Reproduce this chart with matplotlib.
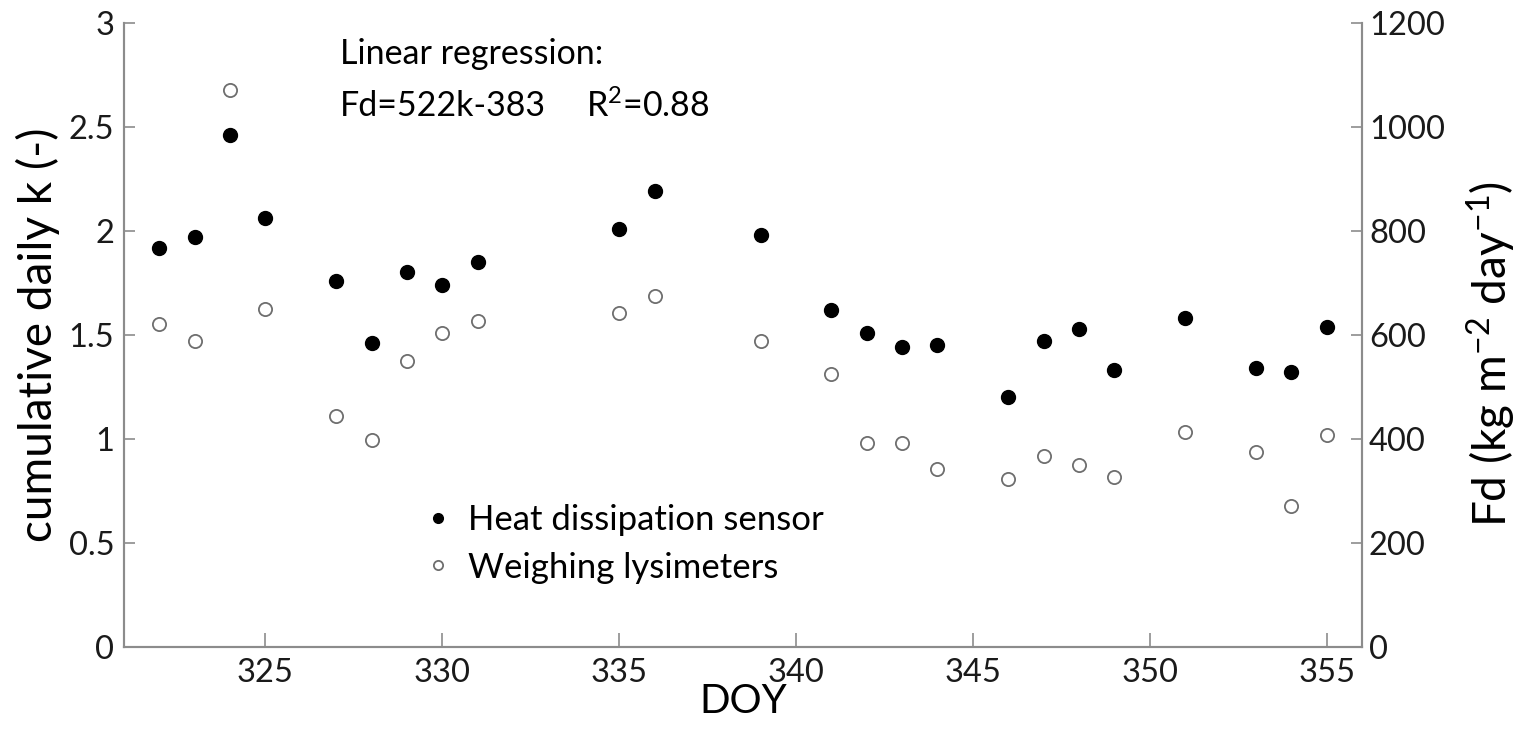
import matplotlib
matplotlib.use("Agg")
import matplotlib.pyplot as plt

plt.rcParams['font.family'] = ['Lato', 'DejaVu Sans']
plt.rcParams['mathtext.fontset'] = 'custom'
plt.rcParams['mathtext.rm'] = 'Lato'
plt.rcParams['mathtext.it'] = 'Lato'

# day of year
doy = [322, 323, 324, 325, 327, 328, 329, 330, 331, 335, 336, 339,
       341, 342, 343, 344, 346, 347, 348, 349, 351, 353, 354, 355]
# cumulative daily k from heat dissipation sensor (left axis)
k_hds = [1.92, 1.97, 2.46, 2.06, 1.76, 1.46, 1.80, 1.74, 1.85, 2.01, 2.19, 1.98,
         1.62, 1.51, 1.44, 1.45, 1.20, 1.47, 1.53, 1.33, 1.58, 1.34, 1.32, 1.54]
# Fd from weighing lysimeters (right axis)
fd_lys = [620, 588, 1072, 650, 443, 398, 550, 603, 627, 643, 675, 588,
          525, 391, 391, 341, 322, 366, 350, 327, 414, 375, 271, 407]

grey = '#8c8c8c'

fig = plt.figure(figsize=(15.17, 7.32), dpi=100)
ax = fig.add_axes([0.0817, 0.1165, 0.8161, 0.8521])
ax2 = ax.twinx()

h1, = ax.plot(doy, k_hds, 'o', ms=10, color='black', mec='black',
              label='Heat dissipation sensor', zorder=3)
h2, = ax2.plot(doy, fd_lys, 'o', ms=9.5, mfc='white', mec='#6e6e6e', mew=1.3,
               label='Weighing lysimeters', zorder=3)

ax.set_xlim(321, 356)
ax.set_ylim(0, 3)
ax2.set_ylim(0, 1200)
ax.set_xticks([325, 330, 335, 340, 345, 350, 355])
ax.set_yticks([0, 0.5, 1, 1.5, 2, 2.5, 3])
ax.set_yticklabels(['0', '0.5', '1', '1.5', '2', '2.5', '3'])
ax2.set_yticks(range(0, 1201, 200))

for a in (ax, ax2):
    a.spines['top'].set_visible(False)
    for s in a.spines.values():
        s.set_color(grey)
        s.set_linewidth(1.5)
ax.tick_params(axis='x', direction='in', length=10, width=1.2, color=grey,
               labelsize=23.5, pad=8, labelcolor='#1a1a1a')
ax.tick_params(axis='y', direction='in', length=8, width=1.2, color=grey,
               labelsize=23.5, pad=7, labelcolor='#1a1a1a')
ax2.tick_params(axis='y', direction='in', length=8, width=1.2, color=grey,
                labelsize=23.5, pad=5, labelcolor='#1a1a1a')

ax.set_xlabel('DOY', fontsize=29, va='top')
ax.xaxis.set_label_coords(0.5, -0.058)
ax.set_ylabel('cumulative daily k (-)', fontsize=33, labelpad=6)
ax2.set_ylabel('Fd (kg m$^{-2}$ day$^{-1}$)', fontsize=33, va='center')
ax2.yaxis.set_label_coords(1.104, 0.47)

ax.text(327.1, 2.85, 'Linear regression:', fontsize=24.5, va='center')
ax.text(327.1, 2.60, 'Fd=522k-383', fontsize=24.5, va='center')
ax.text(334.05, 2.60, 'R$^2$=0.88', fontsize=24.5, va='center')

ax2.legend(handles=[h1, h2], loc='center left', bbox_to_anchor=(0.237, 0.165),
           frameon=False, fontsize=25, markerscale=0.7, handletextpad=0.27,
           handlelength=1.2, labelspacing=0.45, borderpad=0, borderaxespad=0)

fig.savefig('out.png', dpi=100)
